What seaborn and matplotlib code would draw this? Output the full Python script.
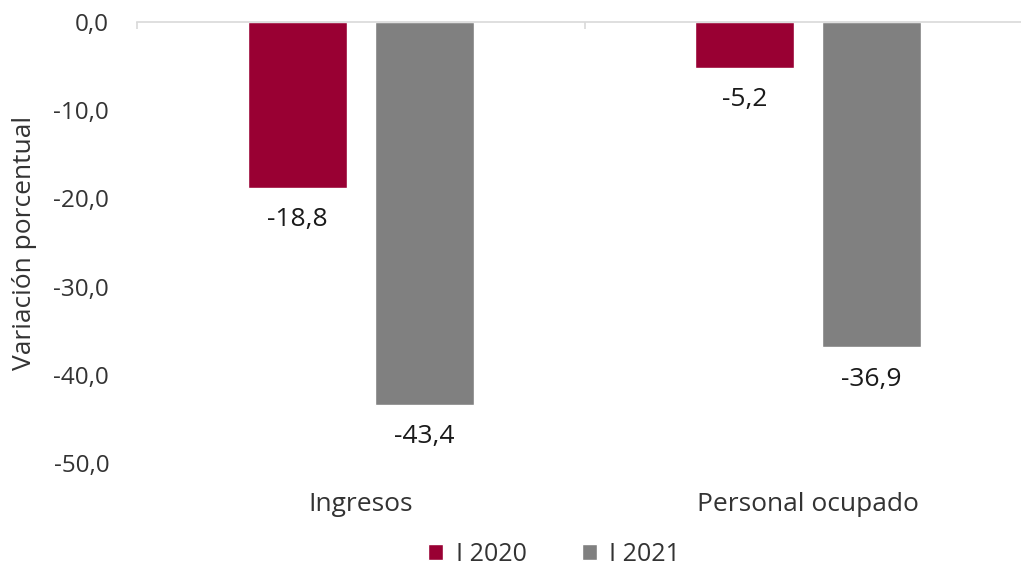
import matplotlib
matplotlib.use("Agg")
import matplotlib.pyplot as plt
import seaborn as sns
import pandas as pd
from matplotlib.ticker import FuncFormatter, FixedLocator

categories = ["Ingresos", "Personal ocupado"]
series = ["I 2020", "I 2021"]
values_2020 = [-18.8, -5.2]
values_2021 = [-43.4, -36.9]
colors = ["#990033", "#808080"]

df = pd.DataFrame({
    "cat": categories * 2,
    "serie": [series[0]] * 2 + [series[1]] * 2,
    "val": values_2020 + values_2021,
})

sns.set_theme(style="white")
plt.rcParams["font.family"] = ["Open Sans", "DejaVu Sans"]

fig = plt.figure(figsize=(10.21, 5.67), dpi=100)
ax = fig.add_axes([137 / 1021, 1 - 463 / 567, 895 / 1021, (463 - 22) / 567])

sns.barplot(data=df, x="cat", y="val", hue="serie", palette=colors,
            width=0.567, gap=0.22, ax=ax, legend=True, saturation=1)

ax.set_ylim(-50, 0)
ax.set_xlim(-0.5, 1.5)
ax.yaxis.set_major_formatter(FuncFormatter(lambda v, p: f"{v:.1f}".replace(".", ",")))
ax.set_yticks([0, -10, -20, -30, -40, -50])
ax.tick_params(axis="y", length=0, pad=20, labelsize=17.5, colors="#333333")
ax.tick_params(axis="x", length=0, pad=21, labelsize=19, colors="#333333")
ax.set_xlabel("")
ax.set_ylabel("Variación porcentual", fontsize=19, color="#333333", labelpad=12)

for s in ["left", "right", "bottom"]:
    ax.spines[s].set_visible(False)
ax.spines["top"].set_visible(True)
ax.spines["top"].set_color("#d9d9d9")
ax.spines["top"].set_linewidth(1.2)

ax.xaxis.set_minor_locator(FixedLocator([-0.5, 0.5, 1.5]))
ax.tick_params(axis="x", which="minor", top=True, bottom=False, direction="in",
               length=5, width=1.2, color="#d9d9d9")

for cont in ax.containers:
    for bar in cont:
        h = bar.get_height()
        ax.annotate(f"{h:.1f}".replace(".", ","),
                    (bar.get_x() + bar.get_width() / 2, h),
                    xytext=(0, -14), textcoords="offset points",
                    ha="center", va="top", fontsize=19, color="#1a1a1a")

leg = ax.get_legend()
handles, labels = ax.get_legend_handles_labels()
leg.remove()
fig.legend(handles, labels, loc="lower center", bbox_to_anchor=(0.543, -0.04),
           ncol=2, frameon=False, fontsize=18, handlelength=0.6, handleheight=0.6,
           handletextpad=0.5, columnspacing=2.2, labelcolor="#333333")

fig.savefig("out.png", dpi=100)
